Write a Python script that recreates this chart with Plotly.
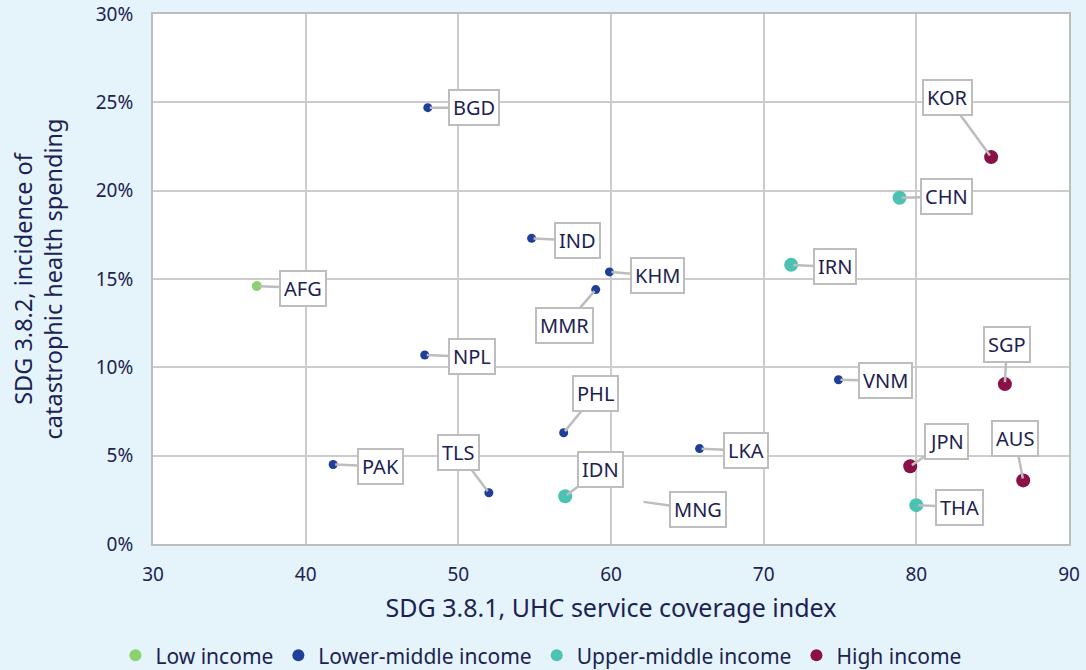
import plotly.graph_objects as go

groups = ["Low income", "Lower-middle income", "Upper-middle income", "High income"]
group_colors = ["#8dd16c", "#1f3f98", "#4cc2b3", "#8a1048"]
group_sizes = [10, 9, 14, 14]

countries = ["AFG", "BGD", "IND", "KHM", "MMR", "NPL", "PHL", "PAK", "TLS", "LKA", "VNM",
             "IDN", "IRN", "CHN", "THA", "KOR", "SGP", "JPN", "AUS"]
income = ["Low income"] + ["Lower-middle income"] * 10 + ["Upper-middle income"] * 4 + ["High income"] * 4
uhc = [36.8, 48.0, 54.8, 59.9, 59.0, 47.8, 56.9, 41.8, 52.0, 65.8, 74.9,
       57.0, 71.8, 78.9, 80.0, 84.9, 85.8, 79.6, 87.0]
che = [14.6, 24.7, 17.3, 15.4, 14.4, 10.7, 6.3, 4.5, 2.9, 5.4, 9.3,
       2.7, 15.8, 19.6, 2.2, 21.9, 9.05, 4.4, 3.6]

# label-only point (no marker shown in the source)
extra_labels = ["MNG"]
extra_uhc = [62.0]
extra_che = [2.4]

# label offsets (px) of callout boxes relative to points
label_dx = {"AFG": 46, "BGD": 46, "IND": 46, "KHM": 48, "MMR": -31, "NPL": 47, "PHL": 32,
            "PAK": 47, "TLS": -30, "LKA": 46, "VNM": 47, "IDN": 35, "IRN": 44, "CHN": 47,
            "THA": 43, "KOR": -44, "SGP": 2, "JPN": 36, "AUS": -8, "MNG": 56}
label_dy = {"AFG": 2, "BGD": 0, "IND": 2, "KHM": 4, "MMR": 36, "NPL": 2, "PHL": -39,
            "PAK": 2, "TLS": -40, "LKA": 2, "VNM": 1, "IDN": -27, "IRN": 2, "CHN": -1,
            "THA": 2, "KOR": -60, "SGP": -40, "JPN": -25, "AUS": -42, "MNG": 8}

text_color = "#1c2252"
font_family = "Noto Sans, Open Sans, sans-serif"
bg = "#e5f4fb"

fig = go.Figure()
for g, c, s in zip(groups, group_colors, group_sizes):
    xs = [x for x, gg in zip(uhc, income) if gg == g]
    ys = [y for y, gg in zip(che, income) if gg == g]
    fig.add_trace(go.Scatter(x=xs, y=ys, mode="markers", name=g,
                             marker=dict(color=c, size=s, line=dict(width=0))))

for name, x, y in list(zip(countries, uhc, che)) + list(zip(extra_labels, extra_uhc, extra_che)):
    fig.add_annotation(x=x, y=y, xref="x", yref="y", text=name, showarrow=True,
                       ax=label_dx[name], ay=label_dy[name], arrowhead=0, arrowwidth=2.5,
                       arrowcolor="#bdbdbd", standoff=2, bgcolor="white",
                       bordercolor="#bdbdbd", borderwidth=2, borderpad=3,
                       font=dict(size=20, color=text_color, family=font_family))

axis_common = dict(showgrid=True, gridcolor="#cccccc", gridwidth=1.5, zeroline=False,
                   showline=True, linecolor="#bdbdbd", linewidth=2, mirror=True,
                   automargin=False,
                   tickfont=dict(size=19, color=text_color, family=font_family), ticks="")

fig.update_xaxes(range=[30, 90], dtick=10, tick0=30, ticklabelstandoff=12,
                 title=dict(text="SDG 3.8.1, UHC service coverage index",
                            font=dict(size=25, color=text_color, family=font_family), standoff=14),
                 **axis_common)
fig.update_yaxes(range=[0, 30], dtick=5, ticksuffix="%", ticklabelstandoff=14,
                 title=dict(text="SDG 3.8.2, incidence of<br>catastrophic health spending",
                            font=dict(size=23.5, color=text_color, family=font_family), standoff=26),
                 **axis_common)

fig.update_layout(
    width=1086, height=670,
    margin=dict(l=153, r=17, t=14, b=126, autoexpand=False),
    paper_bgcolor=bg, plot_bgcolor="white",
    font=dict(family=font_family, color=text_color),
    legend=dict(orientation="h", x=-0.041, xanchor="left", y=-0.172, yanchor="top",
                font=dict(size=21, color=text_color, family=font_family),
                itemsizing="constant", traceorder="normal", bgcolor="rgba(0,0,0,0)",
                itemwidth=30),
)

fig.write_html("out.html", config={"displayModeBar": False},
               post_script="document.body.style.margin='0';document.body.style.background='%s';" % bg)
